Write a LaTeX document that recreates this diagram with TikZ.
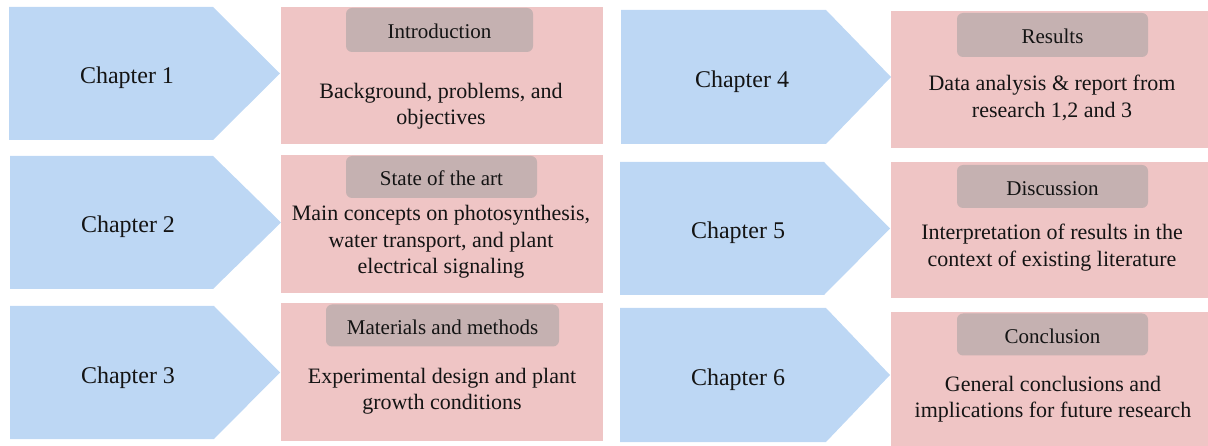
\documentclass[tikz,border=0pt]{standalone}
\usepackage{fontspec}
\setmainfont{Liberation Serif}
\usepackage{xcolor}
\usepackage{tikz}
\usetikzlibrary{positioning,calc}

\definecolor{chapblue}{HTML}{BDD7F4}
\definecolor{infopink}{HTML}{EFC5C5}
\definecolor{titlegray}{HTML}{C5B1B1}
\definecolor{inkdark}{HTML}{141414}

\begin{document}
\begin{tikzpicture}[x=1pt, y=-1pt,
    chaptext/.style={text=inkdark, yshift=-2.5pt, font=\fontsize{24}{28}\selectfont},
    titlebox/.style={fill=titlegray, rounded corners=6pt, inner sep=0pt, text height=18pt, text depth=0pt, text=inkdark, font=\fontsize{21}{25}\selectfont},
    bodytext/.style={text=inkdark, align=center, yshift=-2.5pt, font=\fontsize{22}{26.5}\selectfont}]
    \useasboundingbox (0,0) rectangle (1208,446);

    % Left column: chapter arrows
    \fill [chapblue] (9,7) -- (213,7) -- (280,73.5) -- (213,140) -- (9,140) -- cycle;
    \fill [chapblue] (10,156) -- (213,156) -- (281,222.5) -- (213,289) -- (10,289) -- cycle;
    \fill [chapblue] (10,306) -- (214,306) -- (280,372.5) -- (214,439) -- (10,439) -- cycle;
    \node [chaptext] (ch1) at (127,75) {Chapter 1};
    \node [chaptext] (ch2) at (128,224) {Chapter 2};
    \node [chaptext] (ch3) at (128,375) {Chapter 3};

    % Left column: content boxes
    \fill [infopink] (281,7) rectangle (603,144);
    \fill [infopink] (281,155) rectangle (603,293);
    \fill [infopink] (281,303) rectangle (603,441);
    \node [titlebox, minimum width=187pt, minimum height=44pt] (intro) at (439.5,30) {Introduction};
    \node [titlebox, minimum width=191pt, minimum height=42pt] (art) at (441.5,177) {State of the art};
    \node [titlebox, minimum width=233pt, minimum height=42pt] (methods) at (442.5,325.5) {Materials and methods};
    \node [bodytext] (introtxt) at (441,103.5) {Background, problems, and\\objectives};
    \node [bodytext] (arttxt) at (441,239.5) {Main concepts on photosynthesis,\\water transport, and plant\\electrical signaling};
    \node [bodytext] (methodstxt) at (442,388.5) {Experimental design and plant\\growth conditions};

    % Right column: chapter arrows
    \fill [chapblue] (621,10) -- (826,10) -- (891,77) -- (826,144) -- (621,144) -- cycle;
    \fill [chapblue] (620,162) -- (824,162) -- (890,228.5) -- (824,295) -- (620,295) -- cycle;
    \fill [chapblue] (620,308) -- (826,308) -- (890,375) -- (826,442) -- (620,442) -- cycle;
    \node [chaptext] (ch4) at (742,79) {Chapter 4};
    \node [chaptext] (ch5) at (738,230) {Chapter 5};
    \node [chaptext] (ch6) at (738,377) {Chapter 6};

    % Right column: content boxes
    \fill [infopink] (891,11) rectangle (1208,148);
    \fill [infopink] (891,162) rectangle (1208,298);
    \fill [infopink] (891,312) rectangle (1208,446);
    \node [titlebox, minimum width=191pt, minimum height=44pt] (results) at (1052.5,35) {Results};
    \node [titlebox, minimum width=191pt, minimum height=43pt] (discuss) at (1052.5,186.5) {Discussion};
    \node [titlebox, minimum width=191pt, minimum height=42pt] (concl) at (1052.5,334.5) {Conclusion};
    \node [bodytext] (resultstxt) at (1052,95.5) {Data analysis \& report from\\research 1,2 and 3};
    \node [bodytext] (discusstxt) at (1052,245) {Interpretation of results in the\\context of existing literature};
    \node [bodytext] (concltxt) at (1053,396.5) {General conclusions and\\implications for future research};
\end{tikzpicture}
\end{document}
